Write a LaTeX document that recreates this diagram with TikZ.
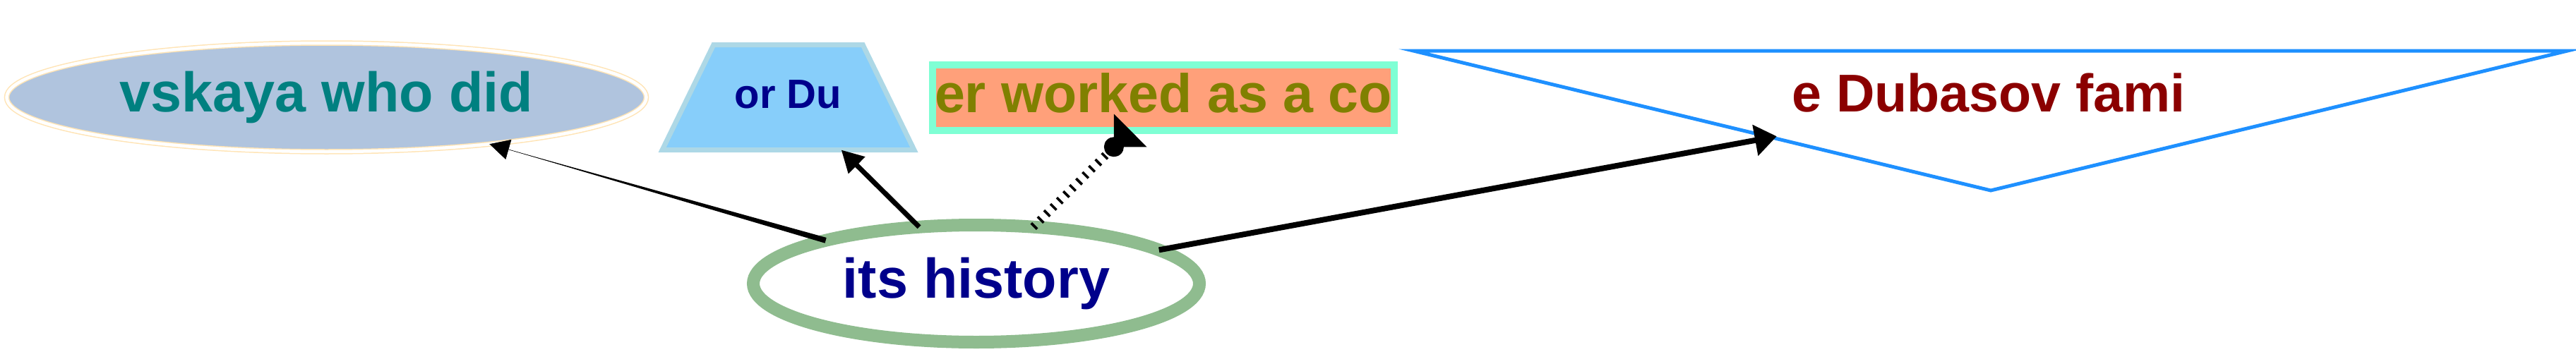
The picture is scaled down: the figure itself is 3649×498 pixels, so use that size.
\documentclass[tikz,border=0pt]{standalone}
\usepackage{fontspec}
\setmainfont{Liberation Sans}
\usetikzlibrary{shapes.geometric, arrows.meta, calc, intersections}

\definecolor{steelfill}{HTML}{B0C4DE}
\definecolor{papaya}{HTML}{FFE4B5}
\definecolor{tealtext}{HTML}{008080}
\definecolor{skyfill}{HTML}{87CEFA}
\definecolor{skyline}{HTML}{ADD8E6}
\definecolor{navytext}{HTML}{00008B}
\definecolor{salmonfill}{HTML}{FFA07A}
\definecolor{aqualine}{HTML}{7FFFD4}
\definecolor{olivetext}{HTML}{808000}
\definecolor{dodgerline}{HTML}{1E90FF}
\definecolor{redtext}{HTML}{8B0000}
\definecolor{seagreen}{HTML}{8FBC8F}

\begin{document}
\begin{tikzpicture}[x=0.5pt, y=-0.5pt,
        fs/.style={font=\bfseries\fontsize{#1}{#1}\selectfont},
        big/.style={fs=40pt, text height=29.2pt, text depth=8.4pt, inner sep=0pt, outer sep=0pt},
        small/.style={fs=29pt, text height=21pt, text depth=6pt, inner sep=0pt, outer sep=0pt},
        oval/.style={big, ellipse, fill=steelfill, draw=papaya, double=white, line width=0.75pt, double distance=2.25pt, text=tealtext, minimum width=453pt, minimum height=77pt},
        trap/.style={small, trapezium, trapezium left angle=64, trapezium right angle=64, fill=skyfill, draw=skyline, line width=3.5pt, text=navytext, inner xsep=15pt, inner ysep=23.75pt},
        box/.style={big, rectangle, fill=salmonfill, draw=aqualine, line width=5pt, text=olivetext, minimum width=327pt, minimum height=46.5pt},
        tri/.style={draw=dodgerline, line width=2.5pt},
        root/.style={big, ellipse, fill=white, draw=seagreen, line width=9pt, text=navytext, minimum width=316pt, minimum height=83pt},
        edge/.style={draw=black, line width=3.5pt},
        hatch/.style={draw=black, line width=6pt, dash pattern=on 1.8pt off 4.6pt}
    ]
    \useasboundingbox (0,0) rectangle (3649,498);

    % Nodes
    \node[oval, fs=39.6pt] (vsk) at (462.5,138) {vskaya who did};
    \node[trap] (ordu) at (1116.5,138) {or Du};
    \node[box, fs=38.6pt] (work) at (1648,138.5) {er worked as a co};
    \node[big, fs=37.7pt, text=redtext] (fam) at (2817,138) {e Dubasov fami};
    \draw[tri, name path=tri] ($(fam)+(-815,-66)$) -- ($(fam)+(820,-66)$) -- ($(fam)+(3,132)$) -- cycle;
    \node[root, fs=39.6pt] (hist) at (1383,402) {its history};

    % Edges
    \path (hist) -- (vsk) coordinate[pos=0] (vskfrom) coordinate[pos=1] (vskto);
    \fill ($(vskfrom)!2pt!90:(vskto)$) -- ($(vskfrom)!2pt!-90:(vskto)$) -- ($(vskto)!14pt!(vskfrom)$) -- cycle;
    \draw[line width=0.25pt, -{Triangle[length=14pt, width=14.5pt]}] (hist) -- (vsk);
    \draw[edge, -{Triangle[length=15.5pt, width=16pt]}] (hist) -- (ordu);
    \draw[hatch, -{Circle[length=14pt, line width=0.5pt, sep=-7pt] Triangle[reversed, length=16.5pt, width=33pt, line width=0.5pt]}] (hist) -- (work);
    \path[name path=histfam] (hist.center) -- (fam.center);
    \draw[edge, line width=4pt, shorten >=-4pt, name intersections={of=tri and histfam, by=famin}, -{Triangle[length=15.5pt, width=21.5pt]}] (hist) -- (famin);

\end{tikzpicture}
\end{document}
